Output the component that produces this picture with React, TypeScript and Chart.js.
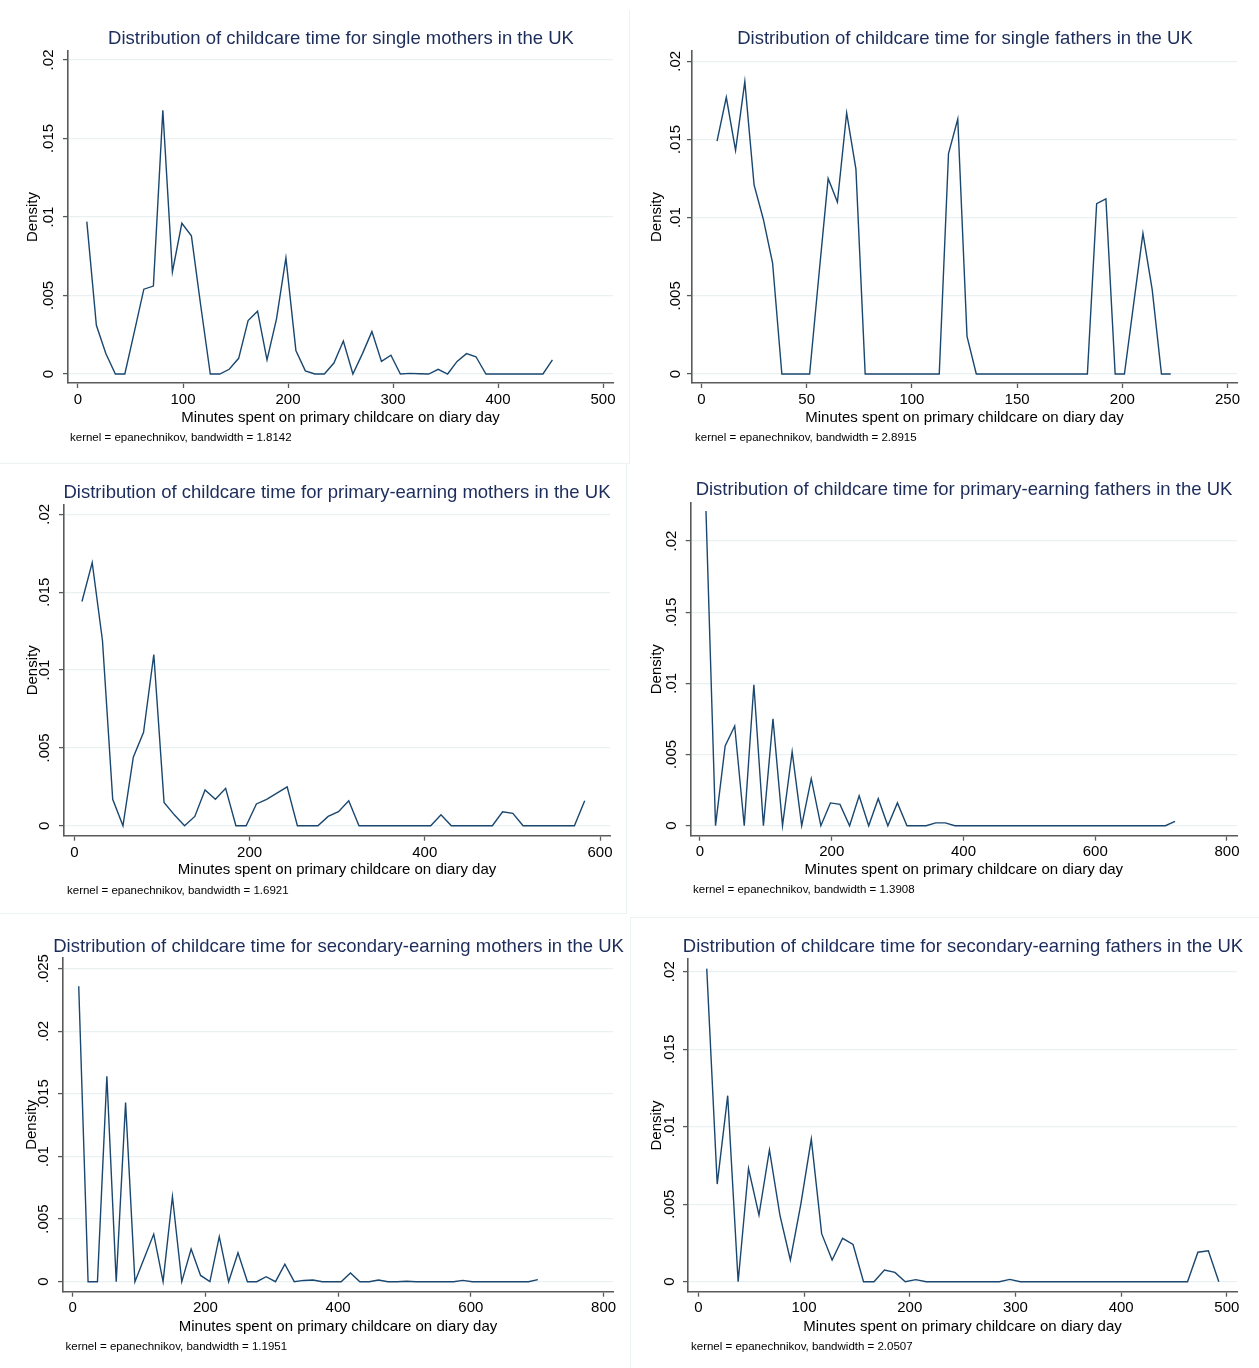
import React, { useEffect, useRef } from 'react';
import { Chart, registerables } from 'chart.js';

Chart.register(...registerables);

// ---------------- DATA ----------------
const X_LABEL = 'Minutes spent on primary childcare on diary day';
const Y_LABEL = 'Density';

const TITLES = [
  'Distribution of childcare time for single mothers in the UK',
  'Distribution of childcare time for single fathers in the UK',
  'Distribution of childcare time for primary-earning mothers in the UK',
  'Distribution of childcare time for primary-earning fathers in the UK',
  'Distribution of childcare time for secondary-earning mothers in the UK',
  'Distribution of childcare time for secondary-earning fathers in the UK',
];

const NOTES = [
  'kernel = epanechnikov, bandwidth = 1.8142',
  'kernel = epanechnikov, bandwidth = 2.8915',
  'kernel = epanechnikov, bandwidth = 1.6921',
  'kernel = epanechnikov, bandwidth = 1.3908',
  'kernel = epanechnikov, bandwidth = 1.1951',
  'kernel = epanechnikov, bandwidth = 2.0507',
];

// single mothers
const SM_MIN = [8.4, 17.5, 26.5, 35.6, 44.6, 53.7, 62.7, 71.8, 80.8, 89.9, 98.9, 108, 117, 126, 135, 144, 153, 162, 171, 180, 189, 198, 207.5, 216.5, 225.6, 234.6, 243.7, 252.7, 261.8, 270.9, 279.9, 289, 298, 307, 316, 325, 334, 343, 352, 361, 370, 379, 388.5, 397.5, 406.6, 415.6, 424.7, 433.7, 442.8, 451.8];
const SM_DEN = [0.0097, 0.0031, 0.0013, 0, 0, 0.0027, 0.0054, 0.0056, 0.0168, 0.0065, 0.0096, 0.0088, 0.0043, 0, 0, 0.0003, 0.001, 0.0034, 0.004, 0.0009, 0.0035, 0.0074, 0.0015, 0.0002, 0, 0, 0.0007, 0.0021, 0, 0.0013, 0.0027, 0.0008, 0.0012, 0, 0.00004, 0.00002, 0, 0.0003, 0, 0.0008, 0.0013, 0.0011, 0, 0, 0, 0, 0, 0, 0, 0.0009];

// single fathers
const SF_MIN = [7.4, 11.8, 16.2, 20.6, 25, 29.4, 33.8, 38.2, 42.6, 47, 51.4, 55.8, 60.2, 64.6, 69, 73.4, 77.8, 82.2, 86.6, 91, 95.4, 99.8, 104.2, 108.6, 113, 117.4, 121.8, 126.2, 130.6, 135, 139.4, 143.8, 148.2, 152.6, 157, 161.4, 165.8, 170.2, 174.6, 179, 183.4, 187.8, 192.2, 196.6, 201, 205.4, 209.8, 214.2, 218.6, 223];
const SF_DEN = [0.0149, 0.0177, 0.0143, 0.0187, 0.0121, 0.0099, 0.0071, 0, 0, 0, 0, 0.0063, 0.0125, 0.011, 0.0167, 0.0131, 0, 0, 0, 0, 0, 0, 0, 0, 0, 0.0141, 0.0163, 0.0024, 0, 0, 0, 0, 0, 0, 0, 0, 0, 0, 0, 0, 0, 0.0109, 0.0112, 0, 0, 0.0045, 0.009, 0.0054, 0, 0];

// primary-earning mothers
const PM_MIN = [8.7, 20.4, 32.1, 43.8, 55.5, 67.3, 79, 90.7, 102.4, 114.1, 125.8, 137.5, 149.2, 161, 172.7, 184.4, 196.1, 207.8, 219.5, 231.2, 242.9, 254.6, 266.3, 278, 289.7, 301.5, 313.2, 324.9, 336.6, 348.3, 360, 371.7, 383.4, 395.1, 406.8, 418.5, 430.3, 442, 453.7, 465.4, 477.1, 488.8, 500.5, 512.2, 523.9, 535.6, 547.3, 559, 570.8, 582.5];
const PM_DEN = [0.0144, 0.0169, 0.0119, 0.0017, 0, 0.0044, 0.006, 0.011, 0.0015, 0.0007, 0, 0.0006, 0.0023, 0.0017, 0.0024, 0, 0, 0.0014, 0.0017, 0.0021, 0.0025, 0, 0, 0, 0.0006, 0.0009, 0.0016, 0, 0, 0, 0, 0, 0, 0, 0, 0.0007, 0, 0, 0, 0, 0, 0.0009, 0.0008, 0, 0, 0, 0, 0, 0, 0.0016];

// primary-earning fathers
const PF_MIN = [9.1, 23.6, 38.2, 52.7, 67.2, 81.8, 96.3, 110.8, 125.3, 139.9, 154.4, 168.9, 183.5, 198, 212.5, 227.1, 241.6, 256.1, 270.6, 285.2, 299.7, 314.2, 328.8, 343.3, 357.8, 372.4, 386.9, 401.4, 415.9, 430.5, 445, 459.5, 474.1, 488.6, 503.1, 517.6, 532.2, 546.7, 561.2, 575.8, 590.3, 604.8, 619.4, 633.9, 648.4, 662.9, 677.5, 692, 706.5, 721.1];
const PF_DEN = [0.0221, 0, 0.0056, 0.007, 0, 0.0099, 0, 0.0075, 0, 0.0052, 0, 0.0033, 0, 0.0016, 0.0015, 0, 0.0021, 0, 0.0019, 0, 0.0016, 0, 0, 0, 0.0002, 0.0002, 0, 0, 0, 0, 0, 0, 0, 0, 0, 0, 0, 0, 0, 0, 0, 0, 0, 0, 0, 0, 0, 0, 0, 0.0003];

// secondary-earning mothers
const SEM_MIN = [9.1, 23.2, 37.3, 51.5, 65.6, 79.7, 93.8, 107.9, 122.1, 136.2, 150.3, 164.4, 178.5, 192.7, 206.8, 220.9, 235, 249.1, 263.3, 277.4, 291.5, 305.6, 319.7, 333.9, 348, 362.1, 376.2, 390.3, 404.5, 418.6, 432.7, 446.8, 460.9, 475.1, 489.2, 503.3, 517.4, 531.5, 545.7, 559.8, 573.9, 588, 602.1, 616.3, 630.4, 644.5, 658.6, 672.7, 686.9, 701];
const SEM_DEN = [0.0236, 0, 0, 0.0164, 0, 0.0143, 0, 0.0019, 0.0038, 0, 0.0068, 0, 0.0026, 0.0005, 0, 0.0036, 0, 0.0023, 0, 0, 0.0004, 0, 0.0014, 0, 0.0001, 0.00013, 0, 0, 0, 0.0007, 0, 0, 0.00013, 0, 0, 0.00003, 0, 0, 0, 0, 0, 0.0001, 0, 0, 0, 0, 0, 0, 0, 0.00016];

// secondary-earning fathers
const SEF_MIN = [8, 17.9, 27.8, 37.7, 47.5, 57.4, 67.3, 77.2, 87.1, 97, 106.9, 116.7, 126.6, 136.5, 146.4, 156.3, 166.2, 176.1, 186, 195.8, 205.7, 215.6, 225.5, 235.4, 245.3, 255.2, 265, 274.9, 284.8, 294.7, 304.6, 314.5, 324.4, 334.3, 344.1, 354, 363.9, 373.8, 383.7, 393.6, 403.4, 413.3, 423.2, 433.1, 443, 452.9, 462.8, 472.6, 482.5, 492.4];
const SEF_DEN = [0.0202, 0.0063, 0.012, 0, 0.0073, 0.0043, 0.0085, 0.0043, 0.0014, 0.005, 0.0092, 0.0031, 0.0014, 0.0028, 0.0024, 0, 0, 0.00075, 0.0006, 0, 0.00013, 0, 0, 0, 0, 0, 0, 0, 0, 0.00015, 0, 0, 0, 0, 0, 0, 0, 0, 0, 0, 0, 0, 0, 0, 0, 0, 0, 0.0019, 0.002, 0];

// tick labels
const X_TICKS_250 = [0, 50, 100, 150, 200, 250];
const X_TICKS_500 = [0, 100, 200, 300, 400, 500];
const X_TICKS_600 = [0, 200, 400, 600];
const X_TICKS_800 = [0, 200, 400, 600, 800];
const Y_TICKS_020 = [0, 0.005, 0.01, 0.015, 0.02];
const Y_TICKS_025 = [0, 0.005, 0.01, 0.015, 0.02, 0.025];

const SERIES_X = [SM_MIN, SF_MIN, PM_MIN, PF_MIN, SEM_MIN, SEF_MIN];
const SERIES_Y = [SM_DEN, SF_DEN, PM_DEN, PF_DEN, SEM_DEN, SEF_DEN];
const X_TICKS = [X_TICKS_500, X_TICKS_250, X_TICKS_600, X_TICKS_800, X_TICKS_800, X_TICKS_500];
const Y_TICKS = [Y_TICKS_020, Y_TICKS_020, Y_TICKS_020, Y_TICKS_020, Y_TICKS_025, Y_TICKS_020];

// ---------------- LAYOUT (positions / styles) ----------------
type Layout = {
  cell: { l: number; t: number; w: number; h: number };
  plot: { l: number; t: number; r: number; b: number };
  xr: [number, number];
  yr: [number, number];
  yLabX: number; // centre x of y tick labels
  denX: number; // centre x of "Density"
  xLabY: number; // centre y of x tick labels
  xTitleY: number;
  title: { x: number; y: number };
  note: { x: number; y: number };
};

const LAYOUTS: Layout[] = [
  { cell: { l: 0, t: 0, w: 630, h: 462 }, plot: { l: 68, t: 51, r: 613, b: 383 }, xr: [-9.52, 509.5], yr: [-0.000573, 0.02057], yLabX: 49, denX: 33, xLabY: 400, xTitleY: 418, title: { x: 341, y: 38 }, note: { x: 70, y: 438 } },
  { cell: { l: 630, t: 0, w: 629, h: 462 }, plot: { l: 692, t: 51, r: 1237, b: 383 }, xr: [-4.5, 254.5], yr: [-0.000575, 0.02066], yLabX: 676, denX: 657, xLabY: 400, xTitleY: 418, title: { x: 965, y: 38 }, note: { x: 695, y: 438 } },
  { cell: { l: 0, t: 462, w: 630, h: 453 }, plot: { l: 64, t: 505, r: 610, b: 835.7 }, xr: [-11.8, 611.4], yr: [-0.00064, 0.0206], yLabX: 45, denX: 33, xLabY: 853, xTitleY: 870, title: { x: 337, y: 492 }, note: { x: 67, y: 891 } },
  { cell: { l: 630, t: 462, w: 629, h: 453 }, plot: { l: 690.7, t: 502.7, r: 1237, b: 835.7 }, xr: [-14.1, 815.2], yr: [-0.000703, 0.02269], yLabX: 671.4, denX: 657, xLabY: 851.7, xTitleY: 870, title: { x: 964, y: 489 }, note: { x: 693, y: 890 } },
  { cell: { l: 0, t: 915, w: 630, h: 453 }, plot: { l: 63, t: 958, r: 613, b: 1291.7 }, xr: [-14.6, 814.2], yr: [-0.0008, 0.02585], yLabX: 44, denX: 32, xLabY: 1308, xTitleY: 1326.7, title: { x: 338.5, y: 945.5 }, note: { x: 65.5, y: 1346.7 } },
  { cell: { l: 630, t: 915, w: 629, h: 453 }, plot: { l: 688, t: 959.3, r: 1237, b: 1291.7 }, xr: [-9.74, 509.6], yr: [-0.000645, 0.0208], yLabX: 670, denX: 657, xLabY: 1308, xTitleY: 1326.7, title: { x: 963, y: 945.5 }, note: { x: 691, y: 1346.7 } },
];

const FONT = "'Liberation Sans', Arial, Helvetica, sans-serif";
const LINE_COLOR = '#1a476f';
const AXIS_COLOR = '#5a5a5a';
const GRID_COLOR = '#e9f1f3';
const TITLE_COLOR = '#1c2c5b';
const TICK_FONT = 15;
const X_SCALE_H = 50;
const TICK_LEN = 5;

const fmtTick = (v: number) => {
  const s = String(Number(v.toFixed(4)));
  return s.startsWith('0.') ? s.slice(1) : s;
};

function Panel({ idx }: { idx: number }) {
  const ref = useRef<HTMLCanvasElement | null>(null);
  const L = LAYOUTS[idx];
  useEffect(() => {
    if (!ref.current) return;
    const xs = SERIES_X[idx];
    const ys = SERIES_Y[idx];
    const xt = X_TICKS[idx];
    const yt = Y_TICKS[idx];
    const yScaleW = L.plot.l - L.cell.l;
    const half = 14.6; // half width of widest rotated label
    const yPad = L.plot.l - TICK_LEN - half - L.yLabX;
    const xPad = L.xLabY - L.plot.b - TICK_LEN - 9;
    const xTitlePadB = L.plot.b + X_SCALE_H - 9 - L.xTitleY;
    const denPad = L.denX - L.cell.l - 9;
    const chart = new Chart(ref.current, {
      type: 'line',
      data: {
        datasets: [
          {
            data: xs.map((x, i) => ({ x, y: ys[i] })),
            borderColor: LINE_COLOR,
            borderWidth: 1.4,
            pointRadius: 0,
            tension: 0,
            fill: false,
          },
        ],
      },
      options: {
        animation: false,
        responsive: false,
        maintainAspectRatio: false,
        devicePixelRatio: 1,
        layout: {
          autoPadding: false,
          padding: {
            left: 0,
            top: L.plot.t - L.cell.t,
            right: L.cell.l + L.cell.w - L.plot.r,
            bottom: L.cell.t + L.cell.h - L.plot.b - X_SCALE_H,
          },
        },
        plugins: {
          legend: { display: false },
          tooltip: { enabled: false },
          title: { display: false },
        },
        scales: {
          x: {
            type: 'linear',
            position: 'bottom',
            min: L.xr[0],
            max: L.xr[1],
            afterBuildTicks: (s: any) => {
              s.ticks = xt.map((v) => ({ value: v }));
            },
            afterFit: (s: any) => {
              s.height = X_SCALE_H;
              s.paddingLeft = 0;
              s.paddingRight = 0;
            },
            grid: {
              display: true,
              drawOnChartArea: false,
              drawTicks: true,
              tickLength: TICK_LEN,
              tickColor: AXIS_COLOR,
              tickWidth: 1.3,
            },
            border: { display: true, color: AXIS_COLOR, width: 1.6 },
            ticks: {
              color: '#000',
              font: { family: FONT, size: TICK_FONT },
              padding: xPad,
              maxRotation: 0,
              minRotation: 0,
              autoSkip: false,
              callback: (v: any) => fmtTick(Number(v)),
            },
            title: {
              display: true,
              text: X_LABEL,
              color: '#000',
              font: { family: FONT, size: TICK_FONT },
              padding: { top: 0, bottom: xTitlePadB },
            },
          },
          y: {
            type: 'linear',
            position: 'left',
            min: L.yr[0],
            max: L.yr[1],
            afterBuildTicks: (s: any) => {
              s.ticks = yt.map((v) => ({ value: v }));
            },
            afterFit: (s: any) => {
              s.width = yScaleW;
              s.paddingTop = 0;
              s.paddingBottom = 0;
            },
            grid: {
              display: true,
              drawOnChartArea: true,
              color: GRID_COLOR,
              lineWidth: 1.2,
              drawTicks: true,
              tickLength: TICK_LEN,
              tickColor: AXIS_COLOR,
              tickWidth: 1.3,
            },
            border: { display: true, color: AXIS_COLOR, width: 1.6 },
            ticks: {
              color: '#000',
              font: { family: FONT, size: TICK_FONT },
              padding: yPad,
              minRotation: 90,
              maxRotation: 90,
              crossAlign: 'center',
              autoSkip: false,
              callback: (v: any) => fmtTick(Number(v)),
            },
            title: {
              display: true,
              text: Y_LABEL,
              color: '#000',
              font: { family: FONT, size: TICK_FONT },
              padding: { top: denPad, bottom: 0 },
            },
          },
        },
      } as any,
    });
    return () => chart.destroy();
  }, [idx]);

  return (
    <>
      <canvas
        ref={ref}
        width={L.cell.w}
        height={L.cell.h}
        style={{ position: 'absolute', left: L.cell.l, top: L.cell.t, width: L.cell.w, height: L.cell.h }}
      />
      <div
        style={{
          position: 'absolute',
          left: L.title.x,
          top: L.title.y,
          transform: 'translate(-50%, -50%)',
          whiteSpace: 'nowrap',
          fontFamily: FONT,
          fontSize: 18.5,
          color: TITLE_COLOR,
          lineHeight: 1,
        }}
      >
        {TITLES[idx]}
      </div>
      <div
        style={{
          position: 'absolute',
          left: L.note.x,
          top: L.note.y,
          transform: 'translate(0, -50%)',
          whiteSpace: 'nowrap',
          fontFamily: FONT,
          fontSize: 11.5,
          color: '#000',
          lineHeight: 1,
        }}
      >
        {NOTES[idx]}
      </div>
    </>
  );
}

const BORDER = '#edf2f4';

export default function App() {
  return (
    <div
      style={{
        position: 'absolute',
        left: 0,
        top: 0,
        width: 1259,
        height: 1368,
        background: '#fff',
        overflow: 'hidden',
      }}
    >
      {/* faint panel separators */}
      <div style={{ position: 'absolute', left: 629, top: 10, width: 1, height: 453, background: BORDER }} />
      <div style={{ position: 'absolute', left: 0, top: 463, width: 630, height: 1, background: BORDER }} />
      <div style={{ position: 'absolute', left: 626, top: 463, width: 1, height: 450, background: BORDER }} />
      <div style={{ position: 'absolute', left: 0, top: 913, width: 627, height: 1, background: BORDER }} />
      <div style={{ position: 'absolute', left: 630, top: 917, width: 629, height: 1, background: BORDER }} />
      <div style={{ position: 'absolute', left: 630, top: 917, width: 1, height: 451, background: BORDER }} />
      {LAYOUTS.map((_, i) => (
        <Panel key={i} idx={i} />
      ))}
    </div>
  );
}
